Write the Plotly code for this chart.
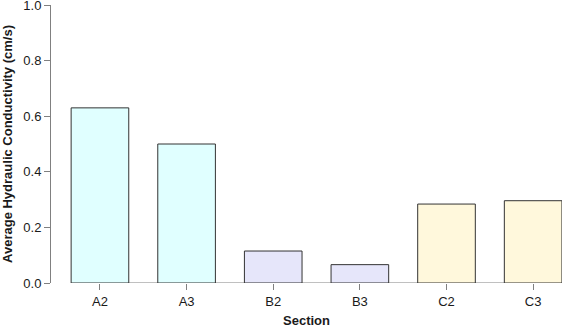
import plotly.graph_objects as go

sections = ["A2", "A3", "B2", "B3", "C2", "C3"]
conductivity = [0.630, 0.500, 0.115, 0.066, 0.284, 0.296]
colors = ["#E0FFFF", "#E0FFFF", "#E6E6FA", "#E6E6FA", "#FFF8DC", "#FFF8DC"]
y_ticks = [0.0, 0.2, 0.4, 0.6, 0.8, 1.0]

font = "Liberation Sans, Arial, sans-serif"

fig = go.Figure(go.Bar(
    x=list(range(len(sections))),
    y=conductivity,
    width=0.665,
    marker=dict(color=colors, line=dict(color="#333333", width=1)),
))

fig.add_shape(type="line", xref="x", yref="y", x0=-0.3325, x1=len(sections) - 1 + 0.3325,
              y0=0, y1=0, line=dict(color="#808080", width=1), layer="below")

fig.update_layout(
    width=562, height=328,
    margin=dict(l=51, r=0, t=5, b=45),
    plot_bgcolor="white", paper_bgcolor="white",
    showlegend=False,
    font=dict(family=font, size=13, color="#1a1a1a"),
    xaxis=dict(
        range=[-0.565, 5.333], automargin=False,
        tickvals=list(range(len(sections))), ticktext=sections,
        ticks="outside", ticklen=6, tickcolor="#808080",
        showline=False, showgrid=False, zeroline=False,
        title=dict(text="<b>Section</b>", standoff=11, font=dict(size=13)),
    ),
    yaxis=dict(
        range=[0, 1], tickvals=y_ticks, tickformat=".1f", automargin=False,
        ticklabeloverflow="allow",
        ticks="outside", ticklen=6, tickcolor="#808080",
        showline=True, linecolor="#808080", linewidth=1,
        showgrid=False, zeroline=False,
        title=dict(text="<b>Average Hydraulic Conductivity (cm/s)</b>", standoff=8,
                   font=dict(size=13)),
    ),
)

# drop the page's default body margin so the figure sits at the window's corner
fig.write_html("out.html", config={"displayModeBar": False},
               post_script="document.body.style.margin='0';")
